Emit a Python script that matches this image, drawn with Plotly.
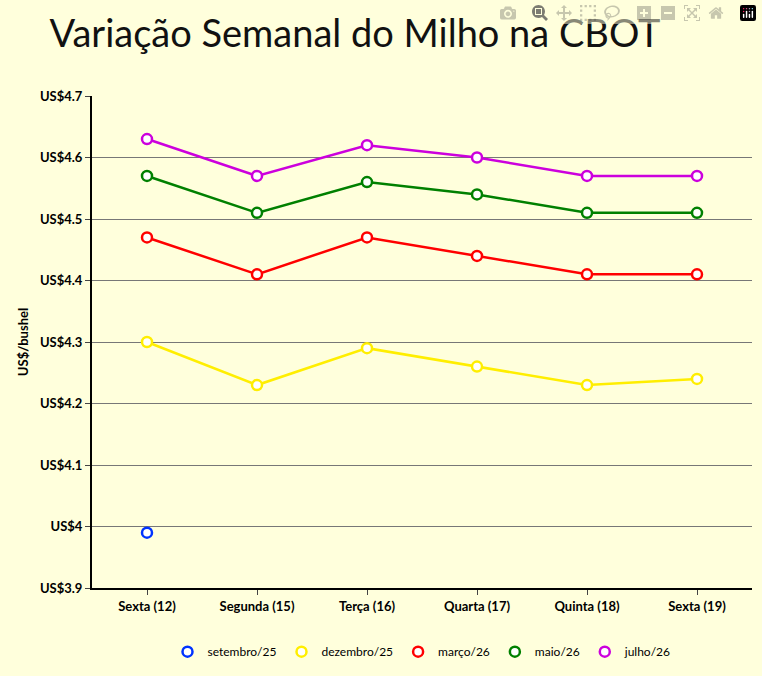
import plotly.graph_objects as go

days = ["Sexta (12)", "Segunda (15)", "Terça (16)", "Quarta (17)", "Quinta (18)", "Sexta (19)"]
setembro = [3.99, None, None, None, None, None]
dezembro = [4.30, 4.23, 4.29, 4.26, 4.23, 4.24]
marco = [4.47, 4.41, 4.47, 4.44, 4.41, 4.41]
maio = [4.57, 4.51, 4.56, 4.54, 4.51, 4.51]
julho = [4.63, 4.57, 4.62, 4.60, 4.57, 4.57]
tick_vals = [3.9, 4.0, 4.1, 4.2, 4.3, 4.4, 4.5, 4.6, 4.7]
tick_text = ["US$3.9", "US$4", "US$4.1", "US$4.2", "US$4.3", "US$4.4", "US$4.5", "US$4.6", "US$4.7"]

series = [("setembro/25", setembro, "#0033FF"), ("dezembro/25", dezembro, "#FFEE00"),
          ("março/26", marco, "#FF0000"), ("maio/26", maio, "#008000"), ("julho/26", julho, "#CC00DD")]

fig = go.Figure()
for name, vals, col in series:
    fig.add_trace(go.Scatter(x=days, y=vals, name=name, mode="lines+markers", showlegend=False,
                             line=dict(color=col, width=2.5),
                             marker=dict(size=10, color="white", line=dict(color=col, width=2.5))))
for name, vals, col in series:
    fig.add_trace(go.Scatter(x=[None], y=[None], name=name, mode="markers",
                             marker=dict(size=10, color="white", line=dict(color=col, width=2.5))))

bg = "#FFFFDC"
fig.update_layout(
    width=762, height=676, paper_bgcolor=bg, plot_bgcolor=bg,
    font=dict(family="Lato, sans-serif", color="black"),
    title=dict(text="Variação Semanal do Milho na CBOT", x=0.065, xanchor="left", y=0.95, yanchor="middle",
               font=dict(size=38, family="Lato, sans-serif", color="#111")),
    margin=dict(l=92, r=10, t=96, b=81),
    showlegend=True,
    legend=dict(orientation="h", x=0.5, xanchor="center", y=-0.1, yanchor="top",
                font=dict(size=12), bgcolor="rgba(0,0,0,0)", itemwidth=30),
    xaxis=dict(type="category", range=[-0.5, 5.5], showgrid=False, showline=True, linecolor="black",
               linewidth=2, ticks="outside", ticklen=5, automargin=False,
               tickfont=dict(size=13, weight="bold")),
    yaxis=dict(range=[3.9, 4.7], tickvals=tick_vals, ticktext=tick_text, showgrid=True, gridcolor="#777",
               gridwidth=1, showline=True, linecolor="black", linewidth=2, ticks="outside", ticklen=5,
               tickfont=dict(size=13, weight="bold"), zeroline=False, automargin=False,
               title=dict(text="US$/bushel", font=dict(size=13, weight="bold"), standoff=8)),
)
fig.write_html("out.html", post_script="document.body.style.margin='0';")
